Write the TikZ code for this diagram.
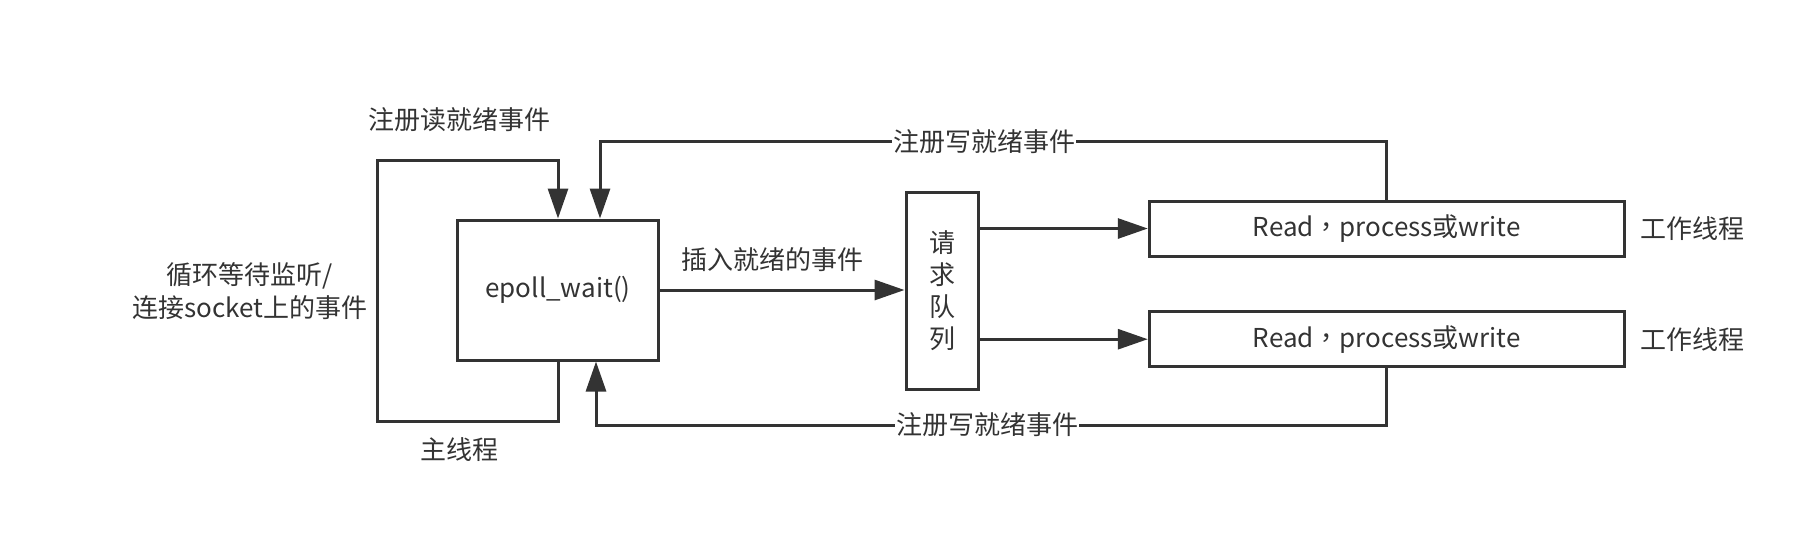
\documentclass[tikz,border=0pt]{standalone}
\usepackage{fontspec}
\setmainfont{Noto Sans CJK SC}
\newfontfamily\tcfont{Noto Sans CJK TC}
\usetikzlibrary{arrows.meta,positioning,calc}
\definecolor{lineGray}{HTML}{333333}

\begin{document}
\begin{tikzpicture}[
  x=0.5pt,y=-0.5pt,
  font=\fontsize{13}{16.5}\selectfont,
  box/.style={draw=lineGray,line width=1.5pt,text=lineGray,inner sep=0pt,align=center},
  lbl/.style={text=lineGray,inner sep=0.5pt,align=center},
  ln/.style={draw=lineGray,line width=1.5pt},
  arr/.style={ln,-{Triangle[length=15pt,width=10pt]}}]
  \useasboundingbox (0,0) rectangle (1820,554);
  % boxes
  \node[box,minimum width=100.3pt,minimum height=70pt] (epoll) at (558,290) {epoll\_wait()};
  \node[box,minimum width=36pt,minimum height=98.3pt,font=\fontsize{13}{16}\selectfont] (queue) at (942,291) {请\\求\\队\\列};
  \node[box,minimum width=237.5pt,minimum height=27.5pt] (workA) at (1386.8,228.5) {Read{\tcfont ，}process或write};
  \node[box,minimum width=237.5pt,minimum height=27.5pt] (workB) at (1386.8,339.2) {Read{\tcfont ，}process或write};
  \node[lbl,inner sep=0pt,right=7pt of workA] (thA) {工作线程};
  \node[lbl,inner sep=0pt,right=7pt of workB] (thB) {工作线程};
  % main thread loop
  \draw[arr] (epoll.south) -- ++(0,60) -| (377.3,160) -| (epoll.north);
  \node[lbl] (readLbl) at (459,120) {注册读就绪事件};
  \node[lbl] (loopLbl) at (250,291.5) {循环等待监听/\\连接socket上的事件};
  \node[lbl] (mainLbl) at (459,450) {主线程};
  % into the queue
  \draw[arr] (epoll.east) -- (queue.west |- epoll.east);
  \node[lbl] (insLbl) at (772.7,259.3) {插入就绪的事件};
  \draw[arr] (queue.east |- workA.west) -- (workA.west);
  \draw[arr] (queue.east |- workB.west) -- (workB.west);
  % back to epoll
  \coordinate (topY) at (0,141.7);
  \coordinate (botY) at (0,425);
  \draw[arr] (workA.north) |- ([xshift=21pt]epoll.north |- topY) -- ([xshift=21pt]epoll.north);
  \draw[arr] (workB.south) |- ([xshift=19pt]epoll.south |- botY) -- ([xshift=19pt]epoll.south);
  \node[lbl,fill=white] (wTop) at (984,141.7) {注册写就绪事件};
  \node[lbl,fill=white] (wBot) at (987,425) {注册写就绪事件};
\end{tikzpicture}
\end{document}
